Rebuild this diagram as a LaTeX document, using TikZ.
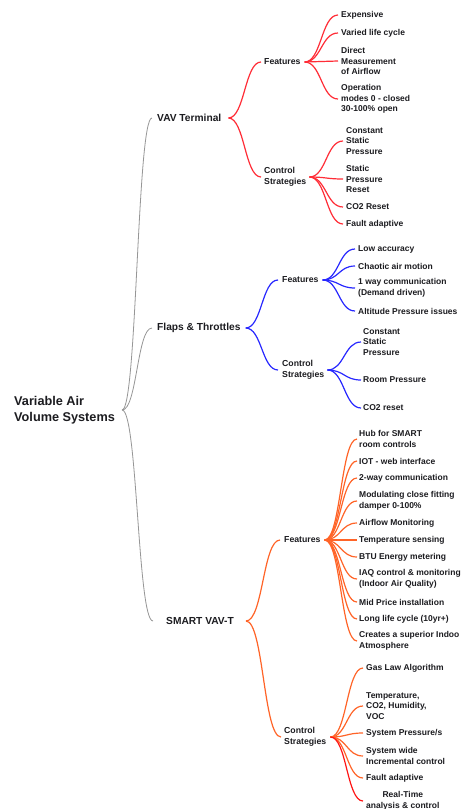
\documentclass[tikz,border=0pt]{standalone}
\usepackage{fontspec}
\setmainfont{Liberation Sans}
\usetikzlibrary{calc}
\definecolor{txt}{RGB}{28,28,32}
\definecolor{cgray}{RGB}{150,150,150}
\definecolor{cred}{RGB}{255,45,55}
\definecolor{cblue}{RGB}{40,40,255}
\definecolor{corange}{RGB}{255,100,40}
\definecolor{cdeep}{RGB}{255,20,20}
\newcommand\mmlink[3]{\draw[#1] let \p1=(#2), \p2=(#3) in (\p1) .. controls ({0.5*\x1+0.5*\x2},\y1) and ({0.5*\x1+0.5*\x2},\y2) .. (\p2);}
\begin{document}
\begin{tikzpicture}[x=1pt,y=-1pt,text=txt,
  rootnode/.style={anchor=west,inner sep=0pt,align=left,font=\fontsize{12.7}{16}\selectfont\bfseries},
  lonenode/.style={anchor=west,inner sep=0pt,font=\fontsize{10.2}{12}\selectfont\bfseries},
  ltwonode/.style={anchor=west,inner sep=0pt,align=left,font=\fontsize{8.7}{10.5}\selectfont\bfseries},
  leaf/.style={anchor=west,inner sep=0pt,align=left,font=\fontsize{8.5}{10.5}\selectfont\bfseries},
  graylink/.style={draw=cgray,line width=0.8pt},
  redlink/.style={draw=cred,line width=1.2pt},
  bluelink/.style={draw=cblue,line width=1.2pt},
  orangelink/.style={draw=corange,line width=1.2pt},
  deeplink/.style={draw=cdeep,line width=1.2pt}]
\useasboundingbox[fill=white] (0,0) rectangle (462,809);

% root
\node[rootnode] (root) at (14,410) {Variable Air\\Volume Systems};

% level 1
\node[lonenode] (vav) at (157,118) {VAV Terminal};
\node[lonenode] (flp) at (157,328) {Flaps \& Throttles};
\node[lonenode] (smt) at (166,621) {SMART VAV-T};

% level 2
\node[ltwonode] (vavF) at (264,62) {Features};
\node[ltwonode] (vavC) at (264,177) {Control\\Strategies};
\node[ltwonode] (flpF) at (282,280) {Features};
\node[ltwonode] (flpC) at (282,370) {Control\\Strategies};
\node[ltwonode] (smtF) at (284,540) {Features};
\node[ltwonode] (smtC) at (284,737) {Control\\Strategies};

% VAV features
\node[leaf] (vf1) at (341,15) {Expensive};
\node[leaf] (vf2) at (341,33) {Varied life cycle};
\node[leaf] (vf3) at (341,61) {Direct\\Measurement\\of Airflow};
\node[leaf] (vf4) at (341,99) {Operation\\modes 0 - closed\\30-100\% open};
% VAV control
\node[leaf] (vc1) at (346,141) {Constant\\Static\\Pressure};
\node[leaf] (vc2) at (346,179) {Static\\Pressure\\Reset};
\node[leaf] (vc3) at (346,207) {CO2 Reset};
\node[leaf] (vc4) at (346,224) {Fault adaptive};

% Flaps features
\node[leaf] (ff1) at (358,249) {Low accuracy};
\node[leaf] (ff2) at (358,266) {Chaotic air motion};
\node[leaf] (ff3) at (358,288) {1 way communication\\(Demand driven)};
\node[leaf] (ff4) at (358,311) {Altitude Pressure issues};
% Flaps control
\node[leaf] (fc1) at (363,342) {Constant\\Static\\Pressure};
\node[leaf] (fc2) at (363,380) {Room Pressure};
\node[leaf] (fc3) at (363,408) {CO2 reset};

% SMART features
\node[leaf] (sf1) at (359,439) {Hub for SMART\\room controls};
\node[leaf] (sf2) at (359,461) {IOT - web interface};
\node[leaf] (sf3) at (359,478) {2-way communication};
\node[leaf] (sf4) at (359,501) {Modulating close fitting\\damper 0-100\%};
\node[leaf] (sf5) at (359,523) {Airflow Monitoring};
\node[leaf] (sf6) at (359,540) {Temperature sensing};
\node[leaf] (sf7) at (359,557) {BTU Energy metering};
\node[leaf] (sf8) at (359,579) {IAQ control \& monitoring\\(Indoor Air Quality)};
\node[leaf] (sf9) at (359,602) {Mid Price installation};
\node[leaf] (sf10) at (359,619) {Long life cycle (10yr+)};
\node[leaf] (sf11) at (359,641) {Creates a superior Indoo\\Atmosphere};
% SMART control
\node[leaf] (sc1) at (366,668) {Gas Law Algorithm};
\node[leaf] (sc2) at (366,706) {Temperature,\\CO2, Humidity,\\VOC};
\node[leaf] (sc3) at (366,733) {System Pressure/s};
\node[leaf] (sc4) at (366,756) {System wide\\Incremental control};
\node[leaf] (sc5) at (366,778) {Fault adaptive};
\node[leaf,align=center] (sc6) at (366,801) {Real-Time\\analysis \& control};

% root links
\mmlink{graylink}{[xshift=7pt]root.east}{[xshift=-5pt]vav.west}
\mmlink{graylink}{[xshift=7pt]root.east}{[xshift=-5pt]flp.west}
\mmlink{graylink}{[xshift=7pt]root.east}{[xshift=-13pt]smt.west}

% level 1 -> 2
\mmlink{redlink}{[xshift=7pt]vav.east}{[xshift=-3pt]vavF.west}
\mmlink{redlink}{[xshift=7pt]vav.east}{[xshift=-3pt]vavC.west}
\mmlink{bluelink}{[xshift=5pt]flp.east}{[xshift=-4pt]flpF.west}
\mmlink{bluelink}{[xshift=5pt]flp.east}{[xshift=-4pt]flpC.west}
\mmlink{orangelink}{[xshift=12pt]smt.east}{[xshift=-4pt]smtF.west}
\mmlink{orangelink}{[xshift=12pt]smt.east}{[xshift=-3pt]smtC.west}

% VAV leaves
\foreach \lf in {vf1,vf2,vf3,vf4}{\mmlink{redlink}{[xshift=4pt]vavF.east}{[xshift=-3pt]\lf.west}}
\foreach \lf in {vc1,vc2,vc3,vc4}{\mmlink{redlink}{[xshift=3pt]vavC.east}{[xshift=-3pt]\lf.west}}
% Flaps leaves
\foreach \lf in {ff1,ff2,ff3,ff4}{\mmlink{bluelink}{[xshift=4pt]flpF.east}{[xshift=-3pt]\lf.west}}
\foreach \lf in {fc1,fc2,fc3}{\mmlink{bluelink}{[xshift=3pt]flpC.east}{[xshift=-2pt]\lf.west}}
% SMART leaves
\foreach \lf in {sf1,sf2,sf3,sf4,sf5,sf6,sf7,sf8,sf9,sf10,sf11}{\mmlink{orangelink}{[xshift=4pt]smtF.east}{[xshift=-2pt]\lf.west}}
\foreach \lf in {sc1,sc2,sc3,sc4,sc5}{\mmlink{orangelink}{[xshift=4pt]smtC.east}{[xshift=-3pt]\lf.west}}
\mmlink{deeplink}{[xshift=4pt]smtC.east}{[xshift=-3pt]sc6.west}
\end{tikzpicture}
\end{document}
